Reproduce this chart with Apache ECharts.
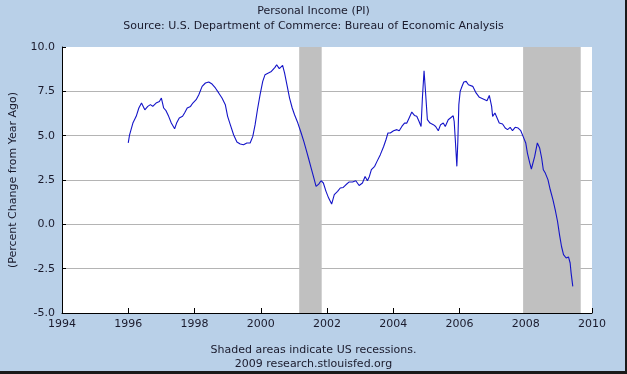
<!DOCTYPE html>
<html>
<head>
<meta charset="utf-8">
<script src="https://cdn.jsdelivr.net/npm/echarts@6/dist/echarts.min.js"></script>
<style>
html,body{margin:0;padding:0;background:#b9d0e8;}
#chart{width:627px;height:374px;}
</style>
</head>
<body>
<div id="chart"></div>
<script>
const titleText = 'Personal Income (PI)';
const subtitleText = 'Source: U.S. Department of Commerce: Bureau of Economic Analysis';
const yAxisName = '(Percent Change from Year Ago)';
const footer1 = 'Shaded areas indicate US recessions.';
const footer2 = '2009 research.stlouisfed.org';

const yTicks = [-5.0, -2.5, 0.0, 2.5, 5.0, 7.5, 10.0];
const xTicks = [1994, 1996, 1998, 2000, 2002, 2004, 2006, 2008, 2010];

const recessionStart = [2001.16, 2007.92];
const recessionEnd = [2001.84, 2009.66];

const dates = [
1996.00,1996.04,1996.14,1996.24,1996.32,1996.40,1996.50,1996.59,1996.67,1996.74,1996.84,1996.94,
1997.00,1997.07,1997.14,1997.22,1997.30,1997.40,1997.46,1997.54,1997.64,1997.70,1997.78,1997.88,1997.95,
1998.05,1998.13,1998.23,1998.33,1998.43,1998.53,1998.63,1998.73,1998.83,1998.93,
1999.00,1999.08,1999.18,1999.28,1999.38,1999.48,1999.58,1999.68,1999.76,1999.83,1999.90,1999.98,
2000.06,2000.13,2000.23,2000.32,2000.43,2000.48,2000.56,2000.66,2000.72,2000.80,2000.87,2000.95,
2001.02,2001.12,2001.22,2001.30,2001.37,2001.44,2001.52,2001.59,2001.67,2001.75,2001.82,2001.89,2001.97,
2002.05,2002.14,2002.22,2002.32,2002.40,2002.49,2002.57,2002.67,2002.77,2002.87,2002.97,
2003.07,2003.15,2003.22,2003.28,2003.34,2003.44,2003.51,2003.61,2003.71,2003.78,2003.84,2003.91,
2004.01,2004.11,2004.18,2004.26,2004.34,2004.41,2004.48,2004.56,2004.64,2004.71,2004.78,2004.84,2004.88,2004.93,2004.98,
2005.03,2005.11,2005.21,2005.28,2005.36,2005.43,2005.51,2005.57,2005.66,2005.72,2005.81,2005.84,2005.87,2005.90,2005.92,2005.95,2005.98,
2006.02,2006.08,2006.13,2006.20,2006.27,2006.40,2006.50,2006.60,2006.70,2006.83,2006.90,2006.93,2006.97,
2007.00,2007.07,2007.13,2007.20,2007.30,2007.38,2007.45,2007.53,2007.60,2007.68,2007.77,2007.85,2007.92,
2008.00,2008.05,2008.12,2008.17,2008.23,2008.27,2008.35,2008.42,2008.48,2008.53,2008.59,2008.67,2008.74,2008.82,2008.89,2008.96,
2009.02,2009.08,2009.14,2009.22,2009.29,2009.34,2009.37,2009.42
];
const values = [
4.59,5.05,5.71,6.09,6.56,6.84,6.46,6.65,6.75,6.65,6.84,6.93,
7.12,6.56,6.41,6.09,5.71,5.39,5.71,6.00,6.09,6.28,6.56,6.65,6.84,
7.03,7.31,7.78,7.97,8.03,7.91,7.69,7.41,7.12,6.75,
6.09,5.62,5.05,4.64,4.53,4.49,4.59,4.59,4.96,5.62,6.46,7.31,
8.06,8.44,8.53,8.62,8.85,9.00,8.78,8.96,8.53,7.78,7.12,6.56,
6.18,5.71,5.15,4.68,4.21,3.74,3.18,2.70,2.14,2.27,2.46,2.33,1.86,
1.48,1.14,1.67,1.86,2.05,2.08,2.23,2.39,2.39,2.46,2.19,
2.33,2.70,2.46,2.70,3.08,3.27,3.55,3.93,4.39,4.77,5.15,5.15,
5.28,5.34,5.28,5.52,5.71,5.71,6.00,6.33,6.14,6.09,5.80,5.52,7.12,8.66,7.31,
5.90,5.71,5.62,5.52,5.28,5.62,5.71,5.52,5.90,5.80,6.12,5.80,4.87,3.93,3.27,4.68,6.75,
7.50,7.80,8.03,8.06,7.87,7.78,7.41,7.16,7.08,6.97,7.27,7.31,6.65,
6.09,6.28,6.18,5.71,5.66,5.43,5.34,5.47,5.28,5.47,5.43,5.28,4.96,
4.59,4.02,3.46,3.12,3.18,3.83,4.59,4.30,3.74,3.08,2.89,2.52,1.95,1.39,0.82,0.16,
-0.59,-1.25,-1.71,-1.90,-1.84,-2.18,-2.75,-3.50
];

const seriesData = dates.map((d, i) => [d, values[i]]);
const bands = recessionStart.map((s, i) => [{ xAxis: s }, { xAxis: recessionEnd[i] }]);

const FONT = 'DejaVu Sans';
const TXT = '#1a1a2c';

const chart = echarts.init(document.getElementById('chart'), null, { renderer: 'canvas' });
chart.setOption({
  animation: false,
  backgroundColor: '#b9d0e8',
  textStyle: { fontFamily: FONT },
  title: [
    { text: titleText, left: 'center', top: 1, textStyle: { fontSize: 11, fontWeight: 'normal', color: TXT, fontFamily: FONT } },
    { text: subtitleText, left: 'center', top: 16, textStyle: { fontSize: 11, fontWeight: 'normal', color: TXT, fontFamily: FONT } },
    { text: footer1, left: 'center', top: 340, textStyle: { fontSize: 11, fontWeight: 'normal', color: TXT, fontFamily: FONT } },
    { text: footer2, left: 'center', top: 354, textStyle: { fontSize: 11, fontWeight: 'normal', color: TXT, fontFamily: FONT } }
  ],
  grid: { left: 57, right: 35, top: 47, bottom: 61, show: true, backgroundColor: '#ffffff', borderWidth: 0 },
  xAxis: {
    type: 'value', min: xTicks[0], max: xTicks[xTicks.length - 1], interval: 2,
    axisLine: { show: true, onZero: false, lineStyle: { color: '#000', width: 1 } },
    axisTick: { show: true, inside: true, length: 5, lineStyle: { color: '#000' } },
    axisLabel: { color: TXT, fontSize: 11, fontFamily: FONT, margin: 6, formatter: v => String(v) },
    splitLine: { show: false }
  },
  yAxis: {
    type: 'value', min: yTicks[0], max: yTicks[yTicks.length - 1], interval: 2.5,
    name: yAxisName, nameLocation: 'middle', nameGap: 43, nameRotate: 90,
    nameTextStyle: { color: TXT, fontSize: 11, fontFamily: FONT },
    axisLine: { show: true, onZero: false, lineStyle: { color: '#000', width: 1 } },
    axisTick: { show: true, inside: true, length: 4, lineStyle: { color: '#000' } },
    axisLabel: { color: TXT, fontSize: 11, fontFamily: FONT, margin: 7, formatter: v => v.toFixed(1) },
    splitLine: { show: true, lineStyle: { color: ['#b4b4b4', '#b4b4b4', '#b4b4b4', '#b4b4b4', '#b4b4b4', '#b4b4b4', '#ffffff'], width: 1 } }
  },
  series: [{
    type: 'line',
    data: seriesData,
    showSymbol: false,
    lineStyle: { color: '#1414c8', width: 1.1 },
    markArea: {
      silent: true,
      itemStyle: { color: '#c0c0c0', opacity: 1 },
      data: bands
    },
    z: 5
  }],
  graphic: [
    { type: 'rect', shape: { x: 625, y: 0, width: 2, height: 374 }, style: { fill: '#1a1a1a' } },
    { type: 'rect', shape: { x: 0, y: 371, width: 627, height: 3 }, style: { fill: '#1a1a1a' } }
  ]
});
</script>
</body>
</html>
